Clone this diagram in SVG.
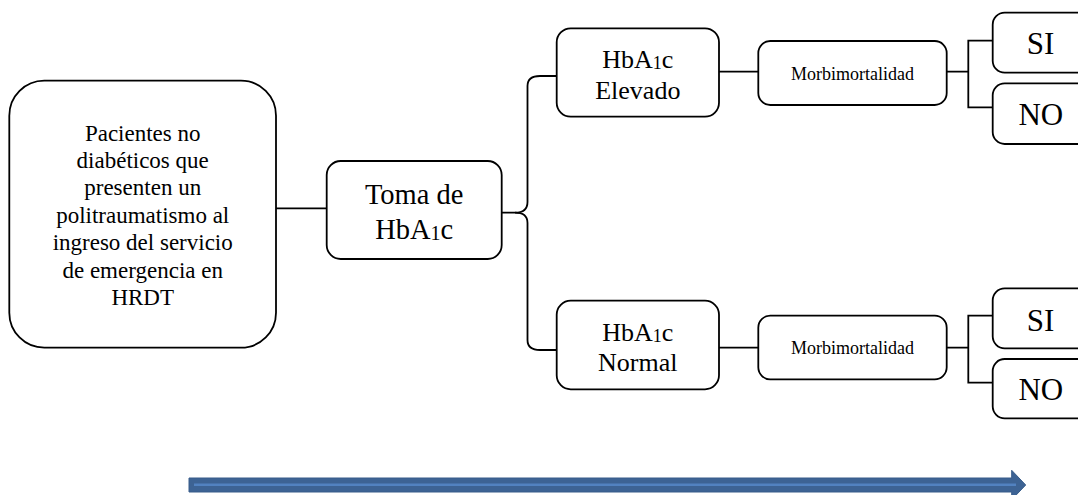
<svg xmlns="http://www.w3.org/2000/svg" width="1078" height="495" viewBox="0 0 1078 495">
<style>
.box{fill:#ffffff;stroke:#000000;stroke-width:1.8}
.ln{fill:none;stroke:#000000;stroke-width:1.8}
text{font-family:"Liberation Serif","Times New Roman",serif;fill:#000000;text-anchor:middle}
.t23{font-size:23px}
.t29{font-size:28.5px}
.t26{font-size:26px}
.t18{font-size:18px}
.t31{font-size:31px}
</style>
<rect width="1078" height="495" fill="#ffffff"/>
<g id="connectors">
<line class="ln" x1="276" y1="208.3" x2="326.7" y2="208.3"/>
<path class="ln" d="M501.7 212.7 L515 212.7 Q527.5 212.7 527.5 202 L527.5 86 Q527.5 76 540 76 L556.7 76"/>
<path class="ln" d="M515 212.7 Q527.5 212.7 527.5 223 L527.5 340 Q527.5 350 540 350 L556.7 350"/>
<line class="ln" x1="719" y1="71.7" x2="758.3" y2="71.7"/>
<line class="ln" x1="719" y1="347.7" x2="758.3" y2="347.7"/>
<path class="ln" d="M946.7 71.7 L968.3 71.7 M993 40.7 L968.3 40.7 L968.3 107.3 L993 107.3"/>
<path class="ln" d="M946.7 347.7 L968.3 347.7 M993 315.7 L968.3 315.7 L968.3 382.7 L993 382.7"/>
</g>
<g id="pacientes">
<rect class="box" x="9.3" y="80.7" width="266.7" height="267" rx="35" ry="35"/>
<text class="t23" x="142.7" y="140.7">Pacientes no</text>
<text class="t23" x="142.7" y="168">diabéticos que</text>
<text class="t23" x="142.7" y="195.4">presenten un</text>
<text class="t23" x="142.7" y="222.8">politraumatismo al</text>
<text class="t23" x="142.7" y="250.2">ingreso del servicio</text>
<text class="t23" x="142.7" y="277.6">de emergencia en</text>
<text class="t23" x="142.7" y="305">HRDT</text>
</g>
<g id="toma">
<rect class="box" x="326.7" y="161" width="175" height="98" rx="14" ry="14"/>
<text class="t29" x="414.2" y="204">Toma de</text>
<text class="t29" x="414.2" y="239">HbA<tspan font-size="20" dy="1">1</tspan><tspan dy="-1">c</tspan></text>
</g>
<g id="elevado">
<rect class="box" x="556.7" y="28.3" width="162.3" height="88.4" rx="14" ry="14"/>
<text class="t26" x="637.8" y="68.3">HbA<tspan font-size="18" dy="1">1</tspan><tspan dy="-1">c</tspan></text>
<text class="t26" x="637.8" y="99">Elevado</text>
</g>
<g id="normal">
<rect class="box" x="556.7" y="300.7" width="162.3" height="88.6" rx="14" ry="14"/>
<text class="t26" x="637.8" y="341">HbA<tspan font-size="18" dy="1">1</tspan><tspan dy="-1">c</tspan></text>
<text class="t26" x="637.8" y="371">Normal</text>
</g>
<g id="morb1">
<rect class="box" x="758.3" y="41" width="188.4" height="64" rx="12" ry="12"/>
<text class="t18" x="852.5" y="80">Morbimortalidad</text>
</g>
<g id="morb2">
<rect class="box" x="758.3" y="315.7" width="188.4" height="63.6" rx="12" ry="12"/>
<text class="t18" x="852.5" y="354">Morbimortalidad</text>
</g>
<g id="si1">
<rect class="box" x="992.7" y="12.7" width="100" height="60" rx="12" ry="12"/>
<text class="t31" x="1040.5" y="54.3">SI</text>
</g>
<g id="no1">
<rect class="box" x="992.7" y="83.3" width="100" height="60.7" rx="12" ry="12"/>
<text class="t31" x="1040.8" y="125">NO</text>
</g>
<g id="si2">
<rect class="box" x="992.7" y="288.3" width="100" height="60" rx="12" ry="12"/>
<text class="t31" x="1040.5" y="330.7">SI</text>
</g>
<g id="no2">
<rect class="box" x="992.7" y="359" width="100" height="59.3" rx="12" ry="12"/>
<text class="t31" x="1040.8" y="400">NO</text>
</g>
<g id="timeline">
<polygon points="189,478 1011.7,478 1011.7,470.3 1025.7,485 1011.7,499.7 1011.7,492 189,492" fill="#3d6394" stroke="#385d8a" stroke-width="1"/>
<line x1="194" y1="484.7" x2="1016" y2="484.7" stroke="#5282c0" stroke-width="2.5"/>
</g>
</svg>
